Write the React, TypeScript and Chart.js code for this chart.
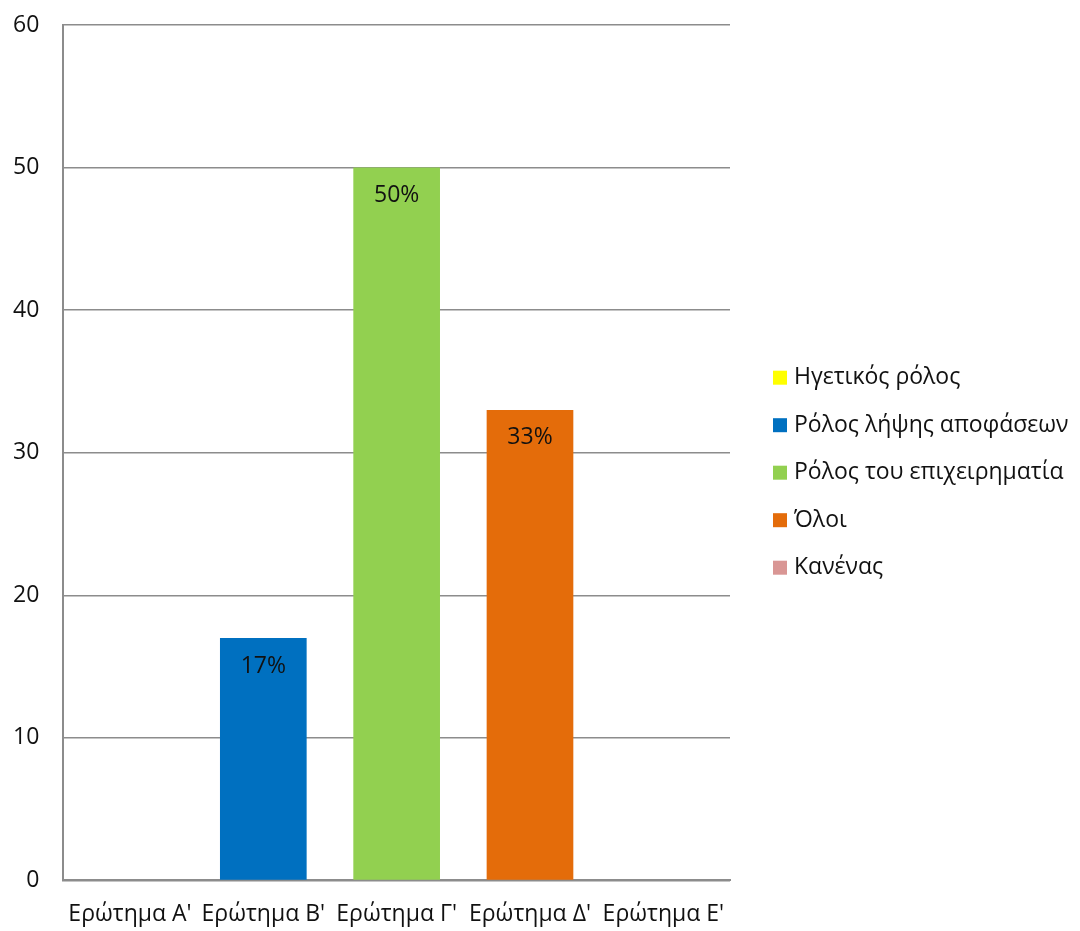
import React, { useEffect, useRef } from "react";
import { Chart, registerables } from "chart.js";

Chart.register(...registerables);

const categories = ["Ερώτημα Α'", "Ερώτημα Β'", "Ερώτημα Γ'", "Ερώτημα Δ'", "Ερώτημα Ε'"];
const seriesNames = ["Ηγετικός ρόλος", "Ρόλος λήψης αποφάσεων", "Ρόλος του επιχειρηματία", "Όλοι", "Κανένας"];
const seriesColors = ["#FFFF00", "#0070C0", "#92D050", "#E46C0A", "#D99694"];
// each answer appears under its own question
const seriesValues = [0, 17, 50, 33, 0];
const yTicks = [0, 10, 20, 30, 40, 50, 60];

const FONT = "'Open Sans', 'Noto Sans', sans-serif";
const FONT_SIZE = 23;

const valueLabels = {
  id: "valueLabels",
  afterDatasetsDraw(chart: any) {
    const ctx = chart.ctx;
    ctx.save();
    ctx.font = `${FONT_SIZE}px ${FONT}`;
    ctx.fillStyle = "#111";
    ctx.textAlign = "center";
    ctx.textBaseline = "middle";
    chart.data.datasets.forEach((ds: any, di: number) => {
      const meta = chart.getDatasetMeta(di);
      ds.data.forEach((v: any, i: number) => {
        if (v == null || v <= 0) return;
        const bar = meta.data[i];
        ctx.fillText(`${v}%`, bar.x, bar.y + 28);
      });
    });
    ctx.restore();
  },
};

// vertical legend drawn to the right of the plot area
const sideLegend = {
  id: "sideLegend",
  afterDraw(chart: any) {
    const { ctx, chartArea } = chart;
    const x = chartArea.right + 43;
    const mid = (chartArea.top + chartArea.bottom) / 2 + 20;
    const step = 47.5;
    ctx.save();
    ctx.font = `${FONT_SIZE}px ${FONT}`;
    ctx.textAlign = "left";
    ctx.textBaseline = "middle";
    chart.data.datasets.forEach((ds: any, i: number) => {
      const y = mid + (i - 2) * step;
      ctx.fillStyle = ds.backgroundColor;
      ctx.fillRect(x, y - 7, 14, 14);
      ctx.fillStyle = "#111";
      ctx.fillText(ds.label, x + 21, y);
    });
    ctx.restore();
  },
};

export default function App() {
  const ref = useRef<HTMLCanvasElement>(null);
  useEffect(() => {
    document.body.style.margin = "0";
    const datasets = seriesNames.map((name, si) => ({
      label: name,
      data: categories.map((_, ci) => (ci === si ? seriesValues[si] : null)),
      backgroundColor: seriesColors[si],
      borderWidth: 0,
      categoryPercentage: 1,
      barPercentage: 0.65,
    }));
    const chart = new Chart(ref.current!, {
      type: "bar",
      data: { labels: categories, datasets },
      options: {
        animation: false,
        responsive: false,
        layout: { padding: { top: 25, left: 13, right: 350, bottom: 3 } },
        plugins: {
          tooltip: { enabled: false },
          legend: { display: false },
        },
        scales: {
          x: {
            stacked: true,
            afterFit: (s: any) => {
              s.paddingLeft = 0;
              s.paddingRight = 0;
              // only keep one tick padding between axis and labels
              s.height -= s.options.ticks.padding;
            },
            grid: { display: false, drawTicks: false },
            border: { color: "#8c8c8c", width: 2 },
            ticks: { color: "#111", font: { family: FONT, size: FONT_SIZE }, padding: 20, maxRotation: 0, autoSkip: false },
          },
          y: {
            stacked: true,
            min: 0,
            max: 60,
            afterBuildTicks: (axis: any) => {
              axis.ticks = yTicks.map((v) => ({ value: v }));
            },
            afterFit: (s: any) => {
              s.paddingTop = 0;
              s.paddingBottom = 0;
              s.width -= s.options.ticks.padding;
            },
            grid: { color: "#8c8c8c", lineWidth: 1.5, drawTicks: false },
            border: { color: "#8c8c8c", width: 2 },
            ticks: { color: "#111", font: { family: FONT, size: FONT_SIZE }, padding: 24 },
          },
        },
      },
      plugins: [valueLabels, sideLegend],
    });
    return () => chart.destroy();
  }, []);
  return <canvas ref={ref} width={1080} height={931} style={{ display: "block" }} />;
}
